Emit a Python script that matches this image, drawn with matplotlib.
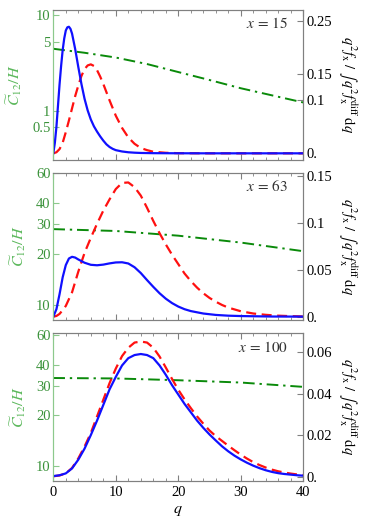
import numpy as np
import matplotlib
matplotlib.use("Agg")
import matplotlib.pyplot as plt
from matplotlib.ticker import FixedLocator, FixedFormatter, MultipleLocator
from matplotlib.scale import FuncScale

plt.rcParams['font.family'] = ['Liberation Serif', 'DejaVu Serif']
plt.rcParams['mathtext.fontset'] = 'stix'

# ---------------- data ----------------
xvals = [15, 63, 100]

# panel 1 (x = 15)
q1_blue = [0, 0.25, 0.5, 0.75, 1.0, 1.25, 1.5, 1.75, 2.0, 2.25, 2.5, 2.75, 3.0, 3.5, 4.0, 4.5, 5.0, 5.5,
           6.0, 6.5, 7, 7.5, 8, 8.5, 9, 9.5, 10, 11, 12, 13, 14, 16, 20, 25, 30, 35, 40]
f1_blue = [0.0, 0.02, 0.05, 0.09, 0.13, 0.165, 0.195, 0.217, 0.232, 0.238, 0.239, 0.235, 0.226, 0.197,
           0.163, 0.131, 0.103, 0.081, 0.064, 0.051, 0.041, 0.032, 0.024, 0.017, 0.012, 0.0085, 0.006,
           0.0035, 0.002, 0.0012, 0.0007, 0.0003, 0.0001, 0, 0, 0, 0]
q1_red = [0, 0.5, 1, 1.5, 2, 2.5, 3, 3.5, 4, 4.5, 5, 5.5, 6, 6.5, 7, 7.5, 8, 9, 10, 11, 12, 13, 14, 15,
          16, 18, 20, 25, 30, 35, 40]
f1_red = [0, 0.002, 0.008, 0.02, 0.040, 0.062, 0.085, 0.108, 0.128, 0.146, 0.159, 0.166, 0.168, 0.165,
          0.157, 0.145, 0.131, 0.100, 0.071, 0.048, 0.030, 0.018, 0.010, 0.006, 0.003, 0.001, 0.0003,
          0, 0, 0, 0]
q1_green = [0, 5, 10, 15, 20, 25, 30, 35, 40]
c1_green = [4.27, 3.89, 3.48, 2.99, 2.48, 2.06, 1.70, 1.44, 1.22]

# panel 2 (x = 63)
q2_blue = [0, 0.5, 1, 1.5, 2, 2.5, 3, 3.5, 4, 5, 6, 7, 8, 9, 10, 11, 12, 13, 14, 15, 16, 17, 18, 19,
           20, 21, 22, 24, 26, 28, 30, 35, 40]
f2_blue = [0, 0.008, 0.024, 0.042, 0.055, 0.062, 0.0638, 0.063, 0.061, 0.0575, 0.0553, 0.0548, 0.0555,
           0.0568, 0.0578, 0.058, 0.0567, 0.0527, 0.0465, 0.039, 0.0318, 0.025, 0.0192, 0.0145, 0.0108,
           0.008, 0.006, 0.0034, 0.0019, 0.0011, 0.0007, 0.0002, 0.0001]
q2_red = [0, 0.5, 1, 1.5, 2, 3, 4, 5, 6, 7, 8, 9, 10, 11, 12, 13, 14, 15, 16, 17, 18, 19, 20, 21, 22,
          23, 24, 25, 26, 27, 28, 30, 32, 34, 36, 38, 40]
f2_red = [0.0, 0.0008, 0.003, 0.007, 0.0115, 0.026, 0.048, 0.068, 0.084, 0.099, 0.113, 0.125, 0.136,
          0.1425, 0.143, 0.138, 0.129, 0.116, 0.102, 0.089, 0.077, 0.066, 0.056, 0.046, 0.038, 0.031,
          0.025, 0.020, 0.016, 0.0125, 0.0097, 0.0058, 0.0034, 0.002, 0.0011, 0.0006, 0.0003]
q2_green = [0, 10, 20, 30, 40]
c2_green = [28.1, 27.4, 25.7, 23.4, 20.8]

# panel 3 (x = 100)
q3_blue = [0, 1, 2, 3, 4, 5, 6, 7, 8, 9, 10, 11, 12, 13, 14, 15, 16, 17, 18, 19, 20, 21, 22, 23, 24,
           25, 26, 27, 28, 29, 30, 31, 32, 33, 34, 35, 36, 37, 38, 39, 40]
f3_blue = [0.0003, 0.0007, 0.0016, 0.004, 0.0082, 0.0135, 0.020, 0.027, 0.0345, 0.042, 0.048, 0.0535,
           0.057, 0.0585, 0.059, 0.0585, 0.057, 0.0535, 0.049, 0.044, 0.0395, 0.035, 0.031, 0.027,
           0.0235, 0.0203, 0.0174, 0.0146, 0.0122, 0.0101, 0.0083, 0.0067, 0.0053, 0.0041, 0.0031,
           0.0023, 0.0017, 0.0013, 0.001, 0.0007, 0.0005]
q3_red = [0, 1, 2, 3, 4, 5, 6, 7, 8, 9, 10, 11, 12, 13, 14, 15, 16, 17, 18, 19, 20, 21, 22, 23, 24,
          25, 26, 27, 28, 29, 30, 31, 32, 33, 34, 35, 36, 37, 38, 39, 40]
f3_red = [0.0002, 0.0006, 0.0016, 0.0042, 0.0088, 0.0145, 0.021, 0.029, 0.037, 0.045, 0.052, 0.058,
          0.062, 0.0645, 0.065, 0.0645, 0.062, 0.0578, 0.0525, 0.047, 0.0418, 0.0372, 0.033, 0.029,
          0.0255, 0.0222, 0.0195, 0.0172, 0.0149, 0.0127, 0.0106, 0.0087, 0.0070, 0.0056, 0.0044,
          0.0034, 0.0026, 0.002, 0.0015, 0.0011, 0.0008]
q3_green = [0, 10, 20, 30, 40]
c3_green = [33.3, 33.1, 32.3, 31.3, 29.5]

left_ticks = [[10, 5, 1, 0.5], [60, 40, 30, 20, 10], [60, 40, 30, 20, 10]]
left_labels = [["10", "5", "1", "0.5"], ["60", "40", "30", "20", "10"], ["60", "40", "30", "20", "10"]]
right_ticks = [[0.25, 0.15, 0.1, 0.0], [0.15, 0.1, 0.05, 0.0], [0.06, 0.04, 0.02, 0.0]]
right_labels = [["0.25", "0.15", "0.1", "0."], ["0.15", "0.1", "0.05", "0."], ["0.06", "0.04", "0.02", "0."]]
x_ticks = [0, 10, 20, 30, 40]

panels = [
    (q1_blue, f1_blue, q1_red, f1_red, q1_green, c1_green),
    (q2_blue, f2_blue, q2_red, f2_red, q2_green, c2_green),
    (q3_blue, f3_blue, q3_red, f3_red, q3_green, c3_green),
]

# ---------------- layout ----------------
W, H = 365, 525
fig = plt.figure(figsize=(W / 100, H / 100), dpi=100)

x0, x1 = 53.3, 303.3
tops = [9.5, 172.7, 333.0]
bots = [160.0, 320.0, 481.0]
right_lims = [(-0.0126, 0.2716), (-0.0035, 0.1534), (-0.00206, 0.0691)]
left_lims = [None, (8.15, 60.6), (8.15, 61.6)]

# custom (Mathematica-like) left scale of the first panel
Lk = np.log10([0.5, 1.0, 5.0, 10.0])
Pk = np.array([-126.7, -111.0, -42.0, -15.0])


def _pw(x, xs, ys):
    x = np.asarray(x, dtype=float)
    y = np.interp(x, xs, ys)
    s0 = (ys[1] - ys[0]) / (xs[1] - xs[0])
    s1 = (ys[-1] - ys[-2]) / (xs[-1] - xs[-2])
    y = np.where(x < xs[0], ys[0] + (x - xs[0]) * s0, y)
    y = np.where(x > xs[-1], ys[-1] + (x - xs[-1]) * s1, y)
    return y


def fwd(v):
    v = np.asarray(v, dtype=float)
    return _pw(np.log10(np.clip(v, 1e-12, None)), Lk, Pk)


def inv(p):
    return 10 ** _pw(p, Pk, Lk)


GREEN_TICK = '#3a923a'
GREEN_LAB = '#5cb85c'
GREEN_SPINE = '#8cc98c'
GRAY = '#808080'
FS = 10.5

for i, (qb, fb, qr, fr, qg, cg) in enumerate(panels):
    ax = fig.add_axes([x0 / W, 1 - bots[i] / H, (x1 - x0) / W, (bots[i] - tops[i]) / H])
    ax2 = ax.twinx()

    # left: green, log-like
    if i == 0:
        ax.set_yscale(FuncScale(ax, (fwd, inv)))
        ax.set_ylim(float(inv(-160.0)), float(inv(-9.5)))
    else:
        ax.set_yscale('log')
        ax.set_ylim(*left_lims[i])
    ax.plot(qg, cg, color='#0a8a0a', lw=1.4, ls=(0, (6, 2.5, 1.2, 2.5)))
    ax.yaxis.set_major_locator(FixedLocator(left_ticks[i]))
    ax.yaxis.set_major_formatter(FixedFormatter(left_labels[i]))
    ax.yaxis.set_minor_locator(FixedLocator([]))
    ax.tick_params(axis='y', which='both', direction='in', length=4, width=0.8,
                   color=GREEN_SPINE, labelcolor=GREEN_TICK, labelsize=FS, pad=2)
    ax.set_ylabel(r'$\widetilde{C}_{12}/H$', color=GREEN_LAB, fontsize=FS + 1, labelpad=6)

    # right: normalised distributions
    ax2.plot(qr, fr, color='#ff1010', lw=1.6, ls=(0, (4.5, 2.5)))
    ax2.plot(qb, fb, color='#1010ff', lw=1.6)
    ax2.set_ylim(*right_lims[i])
    ax2.yaxis.set_major_locator(FixedLocator(right_ticks[i]))
    ax2.yaxis.set_major_formatter(FixedFormatter(right_labels[i]))
    ax2.tick_params(axis='y', direction='in', length=4, width=0.8, color=GRAY,
                    labelcolor='black', labelsize=FS, pad=2)
    ax2.set_ylabel(r'$q^2 f_{\rm x}\ /\ \int\, q^2 f_{\rm x}^{\rm diff}\,{\rm d}q$',
                   rotation=270, fontsize=FS, labelpad=19)

    ax.set_xlim(0, 40)
    ax.xaxis.set_major_locator(FixedLocator(x_ticks))
    ax.xaxis.set_minor_locator(MultipleLocator(2))
    ax.tick_params(axis='x', which='major', direction='in', length=4, width=0.8, color=GRAY,
                   top=True, bottom=True, labelsize=FS)
    ax.tick_params(axis='x', which='minor', direction='in', length=2, width=0.6, color=GRAY,
                   top=True, bottom=True)
    if i < 2:
        ax.tick_params(axis='x', labelbottom=False)
    else:
        ax.set_xlabel(r'$q$', fontsize=FS + 1, labelpad=2)

    for a in (ax, ax2):
        for s in a.spines.values():
            s.set_color(GRAY)
            s.set_linewidth(0.8)
    ax.spines['left'].set_color(GREEN_SPINE)
    ax2.spines['left'].set_color(GREEN_SPINE)

    ax.text(0.94, 0.905, r'$x\,=\,%d$' % xvals[i], transform=ax.transAxes,
            ha='right', va='center', fontsize=FS + 0.5, color='#333333')

fig.savefig('out.png', dpi=100)
